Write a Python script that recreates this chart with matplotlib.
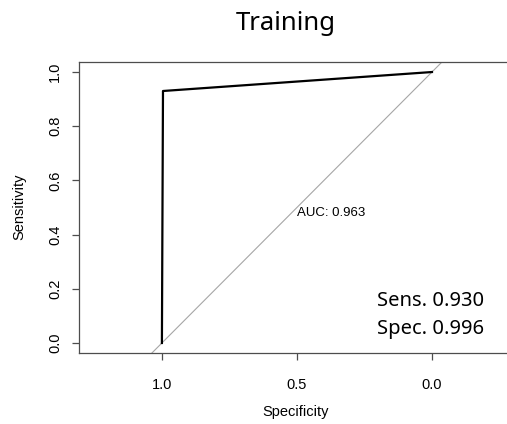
import matplotlib
matplotlib.use("Agg")
import matplotlib.pyplot as plt

specificity = [1.0, 0.996, 0.0]
sensitivity = [0.0, 0.930, 1.0]
auc = 0.963
sens_val = 0.930
spec_val = 0.996
title = "Training"
ticks = [1.0, 0.8, 0.6, 0.4, 0.2, 0.0]
xticks = [1.0, 0.5, 0.0]

W, H = 507, 424
fig = plt.figure(figsize=(W / 100, H / 100), dpi=100)
L, R, B, T = 79, 520, 353, 62
ax = fig.add_axes([L / W, 1 - B / H, (R - L) / W, (B - T) / H])
ax.set_xlim(1.307, -0.326)
ax.set_ylim(-0.037, 1.037)

ax.plot([1.2, -0.2], [-0.2, 1.2], color="#a6a6a6", lw=0.8, zorder=1)
ax.plot(specificity, sensitivity, color="black", lw=1.6, zorder=2)

for s in ["right"]:
    ax.spines[s].set_visible(False)
for s in ["left", "top", "bottom"]:
    ax.spines[s].set_color("#4d4d4d")
    ax.spines[s].set_linewidth(0.9)

tf = dict(family="Liberation Sans", size=10.5)
ax.set_xticks(xticks)
ax.set_xticklabels([f"{v:.1f}" for v in xticks], **tf)
ax.set_yticks(ticks)
ax.set_yticklabels([f"{v:.1f}" for v in ticks], rotation=90, va="center", **tf)
ax.tick_params(axis="x", length=5, width=0.9, color="#4d4d4d", pad=13)
ax.tick_params(axis="y", length=5, width=0.9, color="#4d4d4d", pad=7)

fig.text(296 / W, 1 - 412 / H, "Specificity", ha="center", va="center",
         family="Liberation Sans", size=10.5)
fig.text(19 / W, 1 - 207 / H, "Sensitivity", ha="center", va="center",
         rotation=90, family="Liberation Sans", size=10.5)

ax.text(0.5, 0.5, f"AUC: {auc:.3f}", ha="left", va="top",
        family="Liberation Sans", size=9.5)

fig.text(286 / W, 1 - 24 / H, title, ha="center", va="center",
         family="Noto Sans", size=18.5)
fig.text(484 / W, 1 - 301 / H, f"Sens. {sens_val:.3f}", ha="right", va="center",
         family="Noto Sans", size=14.5)
fig.text(484 / W, 1 - 329 / H, f"Spec. {spec_val:.3f}", ha="right", va="center",
         family="Noto Sans", size=14.5)

fig.savefig("out.png", dpi=100)
